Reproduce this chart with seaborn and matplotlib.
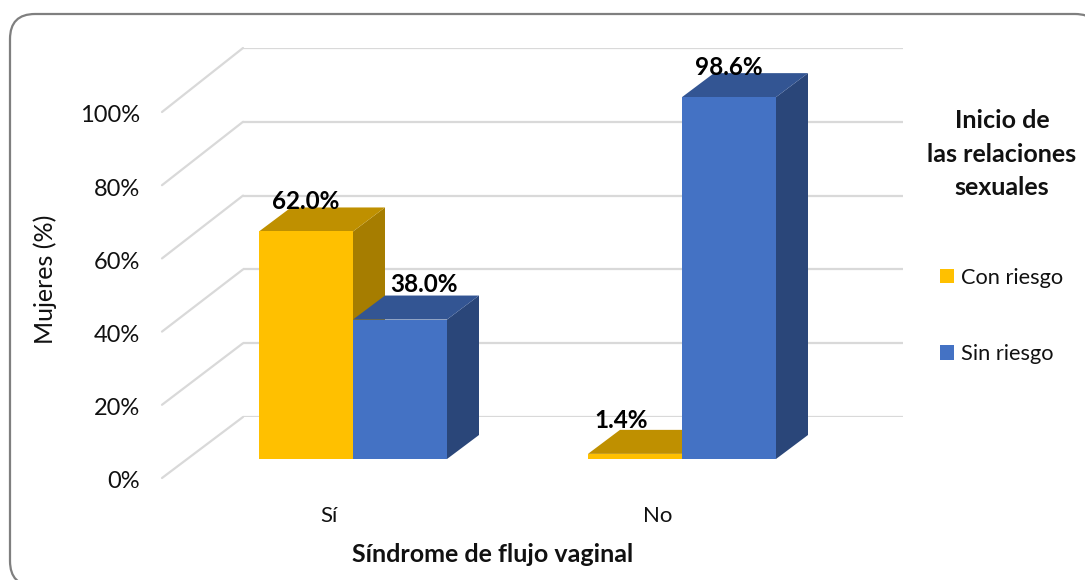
#!/usr/bin/python3
# -*- coding: utf-8 -*-
import seaborn as sns
import matplotlib.pyplot as plt
import pandas as pd
from matplotlib.patches import FancyBboxPatch, Polygon, ConnectionPatch
from matplotlib.transforms import ScaledTranslation

categorias = ['Sí', 'No']
grupos = ['Con riesgo', 'Sin riesgo']
con_riesgo = [62.0, 1.4]
sin_riesgo = [38.0, 98.6]
ticks_y = [0, 20, 40, 60, 80, 100]
colores = ['#FFC000', '#4472C4']
color_top = ['#BF9000', '#335593']
color_lado = ['#A67D00', '#2A4679']

W, H = 1085, 580
DX, DY = 32, 24  # profundidad de las barras en px
PX_X = 329  # px por categoria
PX_Y = 3.67  # px por punto porcentual

sns.set_theme(style='white')
plt.rcParams['font.family'] = ['Lato', 'DejaVu Sans']

def caja(x0, x1, y_top, y_bot):
  return [x0 / W, 1 - y_bot / H, (x1 - x0) / W, (y_bot - y_top) / H]

df = pd.DataFrame({
  'cat': categorias * 2,
  'grupo': [grupos[0]] * 2 + [grupos[1]] * 2,
  'valor': con_riesgo + sin_riesgo,
})

fig = plt.figure(figsize=(W / 100, H / 100), dpi=100)
fig.patch.set_facecolor('white')

# marco redondeado del grafico, cortado por el borde de la imagen
marco = FancyBboxPatch((10 + 25, H - 586 + 25), 1100 - 10 - 50, 586 - 14 - 50,
                       boxstyle='round,pad=25', transform=None,
                       fc='white', ec='#7F7F7F', lw=1.6, zorder=-1)
fig.add_artist(marco)

# pared del fondo
ax_wall = fig.add_axes(caja(243, 903, 48, 417), zorder=0)
ax_wall.patch.set_alpha(0)
ax_wall.set_ylim(0, 100)
ax_wall.set_xlim(0, 1)
ax_wall.set_xticks([])
ax_wall.set_yticks(ticks_y)
ax_wall.set_yticklabels([])
ax_wall.grid(axis='y', color='#D9D9D9', lw=1.6)
ax_wall.tick_params(length=0)
sns.despine(ax=ax_wall, left=True, bottom=True, right=True, top=True)

# plano frontal: etiquetas de los ejes
ax_front = fig.add_axes(caja(162, 822, 112, 478), zorder=1)
ax_front.patch.set_alpha(0)
ax_front.set_ylim(0, 100)
ax_front.set_xlim((162 - 329) / PX_X, (822 - 329) / PX_X)
ax_front.set_yticks(ticks_y)
ax_front.set_yticklabels([str(t) + '%' for t in ticks_y], fontsize=17, color='#111111')
ax_front.set_xticks(range(len(categorias)))
ax_front.set_xticklabels(categorias, fontsize=16, color='#111111')
ax_front.tick_params(axis='y', length=0, pad=16)
ax_front.tick_params(axis='x', length=0, pad=20)
ax_front.set_ylabel('Mujeres (%)', fontsize=18, color='#111111', labelpad=16, y=0.544)
bajar = ScaledTranslation(0, -2 / 100, fig.dpi_scale_trans)
for lbl in ax_front.get_yticklabels():
  lbl.set_transform(lbl.get_transform() + bajar)
sns.despine(ax=ax_front, left=True, bottom=True, right=True, top=True)
fig.text(493 / W, 1 - 554 / H, 'Síndrome de flujo vaginal', fontsize=18, fontweight='bold',
         ha='center', va='center', color='#111111')

# diagonales del piso y la pared lateral
for t in ticks_y:
  fig.add_artist(ConnectionPatch((ax_front.get_xlim()[0], t), (0, t),
                                 coordsA=ax_front.transData, coordsB=ax_wall.transData,
                                 color='#D9D9D9', lw=1.6, zorder=0.5))

# barras
ax = fig.add_axes(caja(162, 903, 48, 459), zorder=2)
ax.patch.set_alpha(0)
sns.barplot(data=df, x='cat', y='valor', hue='grupo', order=categorias, hue_order=grupos,
            palette=colores, width=188 / PX_X, gap=0, saturation=1, ax=ax, zorder=3,
            linewidth=0, errorbar=None)
ax.set_xlim((162 - 353) / PX_X, (903 - 353) / PX_X)
ax.set_ylim(0, (459 - 48) / PX_Y)
ax.set_xticks([])
ax.set_yticks([])
ax.set_xlabel('')
ax.set_ylabel('')
sns.despine(ax=ax, left=True, bottom=True, right=True, top=True)

dx = DX / PX_X
dy = DY / PX_Y
valores = [con_riesgo, sin_riesgo]
for g, cont in enumerate(ax.containers):
  for c, bar in enumerate(cont):
    x0 = bar.get_x()
    x1 = x0 + bar.get_width()
    h = bar.get_height()
    ax.add_patch(Polygon([(x1, 0), (x1 + dx, dy), (x1 + dx, h + dy), (x1, h)], closed=True,
                         fc=color_lado[g], ec='none', zorder=2 + g * 0.1, clip_on=False))
    ax.add_patch(Polygon([(x0, h), (x0 + dx, h + dy), (x1 + dx, h + dy), (x1, h)], closed=True,
                         fc=color_top[g], ec='none', zorder=2 + g * 0.1, clip_on=False))

# etiquetas de datos: desplazamiento respecto al centro superior de la barra (px)
offs = [[(0, 30), (24, 35)], [(-14, 33), (0, 30)]]
for g, cont in enumerate(ax.containers):
  for c, bar in enumerate(cont):
    o = offs[c][g]
    ax.annotate('{:.1f}%'.format(valores[g][c]),
                (bar.get_x() + bar.get_width() / 2, bar.get_height()),
                xytext=(o[0] * 0.72, o[1] * 0.72), textcoords='offset points',
                ha='center', va='center', fontsize=17.5, fontweight='bold', color='#000000',
                annotation_clip=False, zorder=5)

# leyenda
sns.move_legend(ax, 'upper left', bbox_to_anchor=(940 / W, 1 - 267.5 / H), bbox_transform=fig.transFigure,
                title=None, frameon=False, fontsize=15.7, labelspacing=2.59,
                handlelength=0.65, handleheight=0.65, handletextpad=0.3,
                borderpad=0, borderaxespad=0)
for txt in ax.get_legend().get_texts():
  txt.set_color('#111111')
fig.text(1002 / W, 1 - 154 / H, 'Inicio de\nlas relaciones\nsexuales', fontsize=18, fontweight='bold',
         ha='center', va='center', color='#111111', linespacing=1.55)

plt.savefig('out.png', dpi=100)
